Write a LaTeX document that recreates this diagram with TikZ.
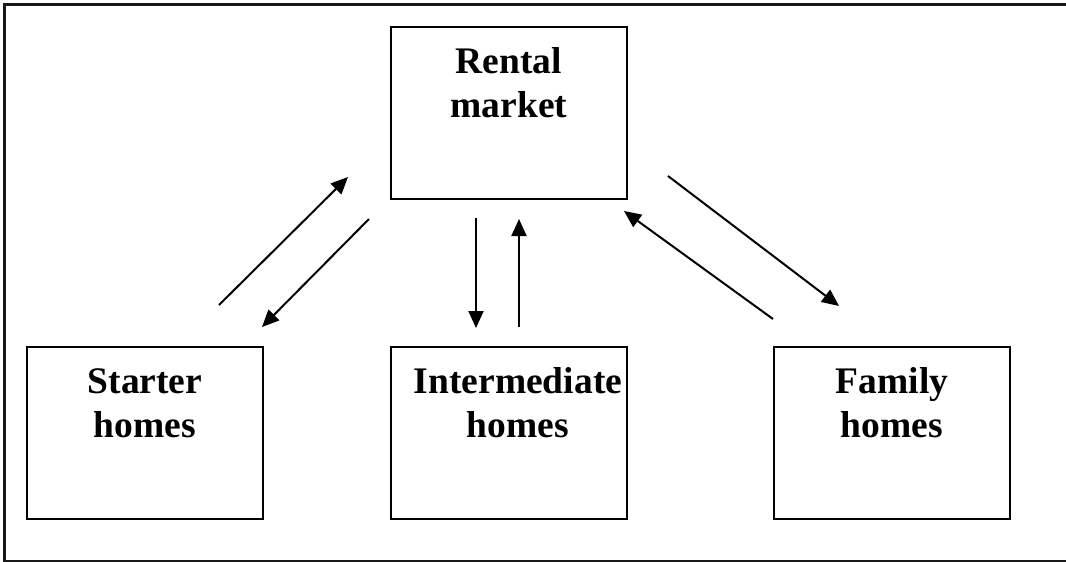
\documentclass[tikz,border=0pt]{standalone}
\usepackage{fontspec}
\setmainfont{Liberation Serif}
\usetikzlibrary{arrows.meta}
\begin{document}
\begin{tikzpicture}[x=1pt,y=-1pt,
  box/.style={draw, line width=1.6pt, minimum width=236pt, minimum height=172pt, inner sep=0pt, outer sep=0pt},
  lbl/.style={anchor=base, align=center, inner sep=0pt, font=\bfseries\fontsize{37.5}{44}\selectfont},
  conn/.style={line width=2pt, -{Triangle[length=17pt,width=15pt]}}]
\useasboundingbox (0,0) rectangle (1066,562);
\clip (0,0) rectangle (1066,562);
\draw[line width=2.2pt, black!90] (4.5,4.5) rectangle (1075,561.5);
\node[box] (rental) at (509,113) {};
\node[box] (starter) at (145,433) {};
\node[box] (inter) at (509,433) {};
\node[box] (family) at (892,433) {};
\node[lbl] (rentaltext) at ([yshift=-90pt]rental.north) {Rental\\market};
\node[lbl] (startertext) at ([yshift=-90pt]starter.north) {Starter\\homes};
\node[lbl] (intertext) at ([xshift=9pt,yshift=-90pt]inter.north) {Intermediate\\homes};
\node[lbl] (familytext) at ([yshift=-90pt]family.north) {Family\\homes};
% arrow end points
\coordinate (a1s) at (219,305); \coordinate (a1e) at (348,177);
\coordinate (a2s) at (369,219); \coordinate (a2e) at (262,327);
\coordinate (a3s) at (476,218); \coordinate (a3e) at (476,328);
\coordinate (a4s) at (519,327); \coordinate (a4e) at (519,219);
\coordinate (a5s) at (668,176); \coordinate (a5e) at (839,306);
\coordinate (a6s) at (773,319); \coordinate (a6e) at (624,211);
\draw[conn] (a1s) -- (a1e);
\draw[conn] (a2s) -- (a2e);
\draw[conn] (a3s) -- (a3e);
\draw[conn] (a4s) -- (a4e);
\draw[conn] (a5s) -- (a5e);
\draw[conn] (a6s) -- (a6e);
\end{tikzpicture}
\end{document}
